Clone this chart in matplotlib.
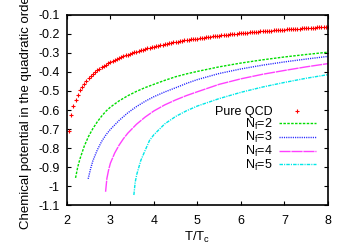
import matplotlib
matplotlib.use("Agg")
import matplotlib.pyplot as plt

plt.rcParams['font.family'] = ['Liberation Sans', 'DejaVu Sans']
plt.rcParams['mathtext.default'] = 'regular'

# Pure QCD (points, step 0.05 in T/Tc)
qcd_t = [2.05, 2.10, 2.15, 2.20, 2.25, 2.30, 2.35, 2.40, 2.45, 2.50,
         2.55, 2.60, 2.65, 2.70, 2.75, 2.80, 2.85, 2.90, 2.95, 3.00,
         3.05, 3.10, 3.15, 3.20, 3.25, 3.30, 3.35, 3.40, 3.45, 3.50,
         3.55, 3.60, 3.65, 3.70, 3.75, 3.80, 3.85, 3.90, 3.95, 4.00,
         4.05, 4.10, 4.15, 4.20, 4.25, 4.30, 4.35, 4.40, 4.45, 4.50,
         4.55, 4.60, 4.65, 4.70, 4.75, 4.80, 4.85, 4.90, 4.95, 5.00,
         5.05, 5.10, 5.15, 5.20, 5.25, 5.30, 5.35, 5.40, 5.45, 5.50,
         5.55, 5.60, 5.65, 5.70, 5.75, 5.80, 5.85, 5.90, 5.95, 6.00,
         6.05, 6.10, 6.15, 6.20, 6.25, 6.30, 6.35, 6.40, 6.45, 6.50,
         6.55, 6.60, 6.65, 6.70, 6.75, 6.80, 6.85, 6.90, 6.95, 7.00,
         7.05, 7.10, 7.15, 7.20, 7.25, 7.30, 7.35, 7.40, 7.45, 7.50,
         7.55, 7.60, 7.65, 7.70, 7.75, 7.80, 7.85, 7.90, 7.95, 8.00]
qcd_mu = [-0.710, -0.625, -0.578, -0.545, -0.519, -0.497, -0.478, -0.462, -0.447, -0.434,
          -0.422, -0.411, -0.401, -0.392, -0.383, -0.375, -0.368, -0.361, -0.354, -0.348,
          -0.342, -0.337, -0.332, -0.327, -0.322, -0.318, -0.313, -0.309, -0.305, -0.301,
          -0.297, -0.293, -0.290, -0.286, -0.283, -0.279, -0.276, -0.273, -0.270, -0.267,
          -0.264, -0.261, -0.259, -0.256, -0.254, -0.251, -0.249, -0.246, -0.244, -0.242,
          -0.240, -0.238, -0.236, -0.234, -0.232, -0.230, -0.228, -0.227, -0.225, -0.224,
          -0.222, -0.221, -0.219, -0.218, -0.216, -0.215, -0.213, -0.212, -0.210, -0.209,
          -0.208, -0.206, -0.205, -0.204, -0.202, -0.201, -0.200, -0.199, -0.197, -0.196,
          -0.195, -0.194, -0.193, -0.192, -0.191, -0.190, -0.189, -0.188, -0.187, -0.186,
          -0.185, -0.184, -0.183, -0.182, -0.181, -0.181, -0.180, -0.179, -0.178, -0.177,
          -0.176, -0.176, -0.175, -0.174, -0.173, -0.173, -0.172, -0.171, -0.170, -0.170,
          -0.169, -0.168, -0.168, -0.167, -0.166, -0.166, -0.165, -0.165, -0.164, -0.163]

# Nf = 2
nf2_t = [2.2, 2.25, 2.3, 2.4, 2.5, 2.6, 2.7, 2.8, 2.9, 3.0, 3.2, 3.4, 3.6, 3.8, 4.0,
         4.25, 4.5, 4.75, 5.0, 5.5, 6.0, 6.5, 7.0, 7.5, 8.0]
nf2_mu = [-0.957, -0.900, -0.858, -0.790, -0.738, -0.697, -0.662, -0.632, -0.606, -0.585,
          -0.552, -0.525, -0.502, -0.482, -0.465, -0.444, -0.425, -0.410, -0.397, -0.373,
          -0.353, -0.336, -0.321, -0.308, -0.296]

# Nf = 3
nf3_t = [2.49, 2.55, 2.6, 2.7, 2.8, 2.9, 3.0, 3.2, 3.4, 3.6, 3.8, 4.0, 4.25, 4.5, 4.75,
         5.0, 5.5, 6.0, 6.5, 7.0, 7.5, 8.0]
nf3_mu = [-0.962, -0.905, -0.866, -0.810, -0.765, -0.730, -0.702, -0.655, -0.615, -0.582,
          -0.554, -0.530, -0.505, -0.483, -0.460, -0.440, -0.408, -0.384, -0.364, -0.347,
          -0.332, -0.318]

# Nf = 4
nf4_t = [2.89, 2.92, 2.96, 3.0, 3.1, 3.2, 3.3, 3.4, 3.6, 3.8, 4.0, 4.25, 4.5, 4.75, 5.0,
         5.5, 6.0, 6.5, 7.0, 7.5, 8.0]
nf4_mu = [-1.030, -0.960, -0.915, -0.880, -0.826, -0.785, -0.751, -0.722, -0.675, -0.637,
          -0.605, -0.573, -0.547, -0.524, -0.504, -0.465, -0.436, -0.412, -0.392, -0.373,
          -0.356]

# Nf = 5
nf5_t = [3.54, 3.57, 3.61, 3.7, 3.8, 3.9, 4.0, 4.25, 4.5, 4.75, 5.0, 5.5, 6.0, 6.5, 7.0,
         7.5, 8.0]
nf5_mu = [-1.047, -0.980, -0.936, -0.865, -0.812, -0.760, -0.730, -0.673, -0.634, -0.604,
          -0.579, -0.540, -0.507, -0.479, -0.455, -0.433, -0.414]

yticks = [-0.1, -0.2, -0.3, -0.4, -0.5, -0.6, -0.7, -0.8, -0.9, -1.0, -1.1]
ytick_labels = ['-0.1', '-0.2', '-0.3', '-0.4', '-0.5', '-0.6', '-0.7', '-0.8', '-0.9', '-1', '-1.1']

fig = plt.figure(figsize=(3.5, 2.45), dpi=100)
ax = fig.add_axes([0.191, 0.163, 0.746, 0.776])

ax.plot(qcd_t, qcd_mu, linestyle='none', marker='+', color='red',
        markersize=3.5, markeredgewidth=0.8, label='Pure QCD')
ax.plot(nf2_t, nf2_mu, color='#00dd00', lw=1.0, dashes=(1.8, 1.0), label='N$_f$=2')
ax.plot(nf3_t, nf3_mu, color='#2020ff', lw=1.0, dashes=(0.8, 0.8), label='N$_f$=3')
ax.plot(nf4_t, nf4_mu, color='#ff40ff', lw=1.0, dashes=(8, 0.6), label='N$_f$=4')
ax.plot(nf5_t, nf5_mu, color='#00e8e8', lw=1.0, dashes=(2.5, 0.8, 0.8, 0.8), label='N$_f$=5')

ax.set_xlim(2, 8)
ax.set_ylim(-1.1, -0.1)
ax.set_xticks([2, 3, 4, 5, 6, 7, 8])
ax.set_yticks(yticks)
ax.set_yticklabels(ytick_labels)
ax.tick_params(direction='in', top=True, right=True, length=3, width=0.8,
               labelsize=9, pad=5)
ax.tick_params(axis='x', pad=7)
for s in ax.spines.values():
    s.set_linewidth(1.2)

ax.set_xlabel('T/T$_c$', fontsize=9.5, labelpad=2)
ax.set_ylabel('Chemical potential in the quadratic order', fontsize=9.5, labelpad=5)

ax.legend(loc='upper right', bbox_to_anchor=(0.955, 0.52), frameon=False,
          markerfirst=False, fontsize=9, handlelength=3.0, handletextpad=0.5,
          labelspacing=-0.12, borderaxespad=0, borderpad=0)

fig.savefig('out.png', dpi=100)
